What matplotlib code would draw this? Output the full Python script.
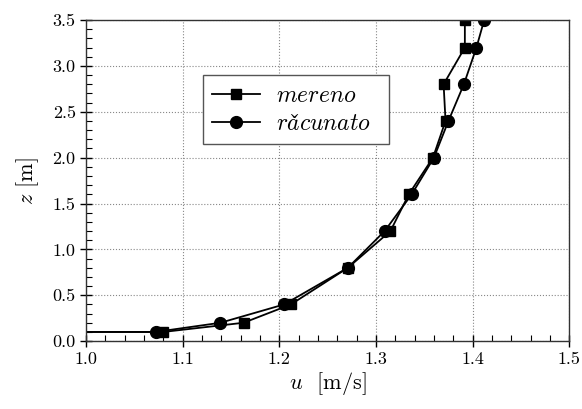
import matplotlib
matplotlib.use("Agg")
import matplotlib.pyplot as plt
from matplotlib.ticker import MultipleLocator

plt.rcParams['font.family'] = 'serif'
plt.rcParams['font.serif'] = ['cmr10']
plt.rcParams['mathtext.fontset'] = 'cm'
plt.rcParams['axes.formatter.use_mathtext'] = True

# data (first point lies left of the visible range, drawn as line only)
u_mereno = [0.90, 1.080, 1.163, 1.212, 1.271, 1.315, 1.334, 1.359, 1.372, 1.370, 1.392, 1.392]
z_mereno = [0.10, 0.10, 0.20, 0.40, 0.80, 1.20, 1.60, 2.00, 2.40, 2.80, 3.20, 3.50]
u_racunato = [0.90, 1.072, 1.139, 1.205, 1.271, 1.309, 1.337, 1.360, 1.375, 1.391, 1.404, 1.412]
z_racunato = [0.10, 0.10, 0.20, 0.40, 0.80, 1.20, 1.60, 2.00, 2.40, 2.80, 3.20, 3.50]

fig = plt.figure(figsize=(5.82, 4.09), dpi=100)
ax = fig.add_axes([0.148, 0.166, 0.83, 0.785])

ax.plot(u_mereno, z_mereno, '-s', color='black', lw=1.3, ms=7,
        label=r'$mereno$', clip_on=True)
ax.plot(u_racunato, z_racunato, '-o', color='black', lw=1.3, ms=8.5,
        label=r'$ra\check{c}unato$' + '  ', clip_on=True)

ax.set_xlim(1.0, 1.5)
ax.set_ylim(0.0, 3.5)
ax.xaxis.set_major_locator(MultipleLocator(0.1))
ax.xaxis.set_minor_locator(MultipleLocator(0.02))
ax.yaxis.set_major_locator(MultipleLocator(0.5))
ax.yaxis.set_minor_locator(MultipleLocator(0.1))
ax.xaxis.set_major_formatter(matplotlib.ticker.FormatStrFormatter('%.1f'))
ax.yaxis.set_major_formatter(matplotlib.ticker.FormatStrFormatter('%.1f'))
ax.tick_params(which='major', direction='inout', length=8, width=1, labelsize=13)
ax.tick_params(which='minor', direction='in', length=4, width=0.8)
ax.grid(True, which='major', linestyle=':', color='#888888', lw=0.8)
for s in ax.spines.values():
    s.set_linewidth(1.0)
    s.set_color('#333333')

ax.set_xlabel(r'$u$  [m/s]', fontsize=16, labelpad=2)
ax.set_ylabel(r'$z$ [m]', fontsize=16, labelpad=8)

leg = ax.legend(loc='upper left', bbox_to_anchor=(0.242, 0.828), fontsize=17,
                fancybox=False, framealpha=1, edgecolor='#555555',
                handlelength=2.0, borderpad=0.4, labelspacing=0.25,
                borderaxespad=0.0, handletextpad=0.7)
leg.get_frame().set_linewidth(1.0)

fig.savefig('out.png', dpi=100)
